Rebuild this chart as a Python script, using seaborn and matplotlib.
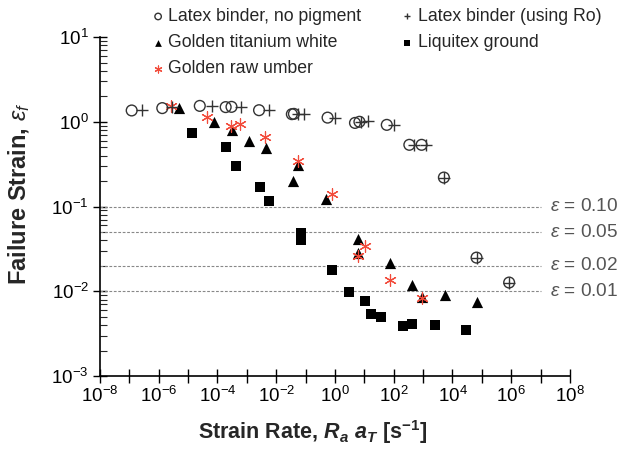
import numpy as np
import pandas as pd
import matplotlib
matplotlib.use("Agg")
import matplotlib.pyplot as plt
import matplotlib.ticker as mticker
import seaborn as sns

# strain rate R_a a_T [1/s] vs failure strain
latex_x = [1.2e-7, 1.32e-6, 2.5e-5, 1.9e-4, 3.0e-4, 2.6e-3, 3.4e-2, 4.0e-2, 0.56,
           4.8, 6.8, 58, 340, 890, 5100, 6.6e4, 8.5e5]
latex_y = [1.36, 1.45, 1.54, 1.49, 1.50, 1.37, 1.23, 1.24, 1.12,
           0.97, 1.0, 0.92, 0.535, 0.535, 0.22, 0.025, 0.0127]

ro_x = [2.6e-7, 2.8e-6, 6.3e-5, 6.5e-4, 5.8e-3, 5.5e-2, 8.7e-2, 1.0,
        7.8, 13.5, 105, 490, 1260, 5100, 6.6e4, 8.5e5]
ro_y = [1.36, 1.50, 1.54, 1.50, 1.39, 1.24, 1.24, 1.12,
        1.0, 1.03, 0.92, 0.535, 0.535, 0.22, 0.025, 0.0127]

white_x = [4.8e-6, 7.8e-5, 3.1e-4, 1.17e-3, 4.5e-3, 5.4e-2, 3.8e-2, 0.50,
           6.2, 6.3, 74, 430, 930, 5500, 6.6e4]
white_y = [1.46, 1.0, 0.80, 0.60, 0.49, 0.31, 0.20, 0.123,
           0.041, 0.0287, 0.0215, 0.0120, 0.00855, 0.0091, 0.0074]

ground_x = [1.38e-5, 1.95e-4, 4.4e-4, 2.9e-3, 5.9e-3, 7.1e-2, 7.1e-2, 0.81,
            3.1, 10.7, 17.4, 38, 214, 430, 2600, 3.0e4]
ground_y = [0.736, 0.50, 0.30, 0.17, 0.115, 0.0494, 0.0405, 0.0178,
            0.0098, 0.00766, 0.00538, 0.00497, 0.00388, 0.0041, 0.0040, 0.00351]

umber_x = [2.6e-6, 4.4e-5, 3.0e-4, 6.0e-4, 4.2e-3, 5.6e-2, 0.78, 10.5, 6.2, 74, 930]
umber_y = [1.55, 1.15, 0.90, 0.95, 0.67, 0.344, 0.139, 0.0347, 0.0258, 0.0137, 0.00845]

strain_levels = [0.10, 0.05, 0.02, 0.01]
strain_labels = ["0.10", "0.05", "0.02", "0.01"]

sns.set_style("ticks")
plt.rcParams["font.family"] = ["Liberation Sans", "DejaVu Sans"]
plt.rcParams["mathtext.fontset"] = "custom"
plt.rcParams["mathtext.rm"] = "Liberation Sans"
plt.rcParams["mathtext.it"] = "Liberation Sans:italic"
plt.rcParams["mathtext.bf"] = "Liberation Sans:bold"
plt.rcParams["mathtext.bfit"] = "Liberation Sans:italic:bold"

fig = plt.figure(figsize=(6.34, 4.57), dpi=100)
ax = fig.add_axes([0.1577, 0.177, 0.7413, 0.742])

# reference strain lines
for lev, lab in zip(strain_levels, strain_labels):
    ax.plot([1e-8, 1e7], [lev, lev], ls=(0, (2.5, 1.5)), lw=0.8, color="#888888", zorder=1)
    ax.text(10**7.33, lev, r"$\varepsilon$ = " + lab, fontsize=13.7, color="#555555",
            va="center", ha="left", clip_on=False)

sns.scatterplot(x=ground_x, y=ground_y, marker="s", s=45, color="black", edgecolor="black",
                linewidth=0, label="Liquitex ground", ax=ax, zorder=3)
sns.scatterplot(x=white_x, y=white_y, marker="^", s=65, color="black", edgecolor="black",
                linewidth=0, label="Golden titanium white", ax=ax, zorder=3)
sns.scatterplot(x=umber_x, y=umber_y, marker=(6, 2, 0), s=70, color="#f24b3b",
                linewidth=0.85, label="Golden raw umber", ax=ax, zorder=4)
sns.scatterplot(x=latex_x, y=latex_y, marker="o", s=60, facecolors="none", edgecolor="#333333",
                linewidth=1.0, label="Latex binder, no pigment", ax=ax, zorder=4)
sns.scatterplot(x=ro_x, y=ro_y, marker="+", s=70, color="#333333",
                linewidth=1.0, label="Latex binder (using Ro)", ax=ax, zorder=4)

ax.set_xscale("log")
ax.set_yscale("log")
ax.set_xlim(1e-8, 1e8)
ax.set_ylim(1e-3, 1e1)

xt = [10.0**k for k in range(-8, 9)]
ax.set_xticks(xt)
ax.set_xticklabels([r"$10^{%d}$" % k if k % 2 == 0 else "" for k in range(-8, 9)])
ax.xaxis.set_minor_locator(mticker.NullLocator())
ax.set_yticks([10.0**k for k in range(-3, 2)])
ax.set_yticklabels([r"$10^{%d}$" % k for k in range(-3, 2)])
ax.yaxis.set_minor_locator(mticker.LogLocator(base=10, subs=np.arange(2, 10), numticks=20))
ax.yaxis.set_minor_formatter(mticker.NullFormatter())

ax.tick_params(axis="both", which="major", direction="inout", length=10, width=1,
               labelsize=13.5, color="black", labelcolor="black")
ax.tick_params(axis="x", pad=2)
ax.tick_params(axis="y", pad=3)
ax.tick_params(axis="y", which="minor", direction="in", length=5, width=0.8)
sns.despine(ax=ax)
for sp in ["left", "bottom"]:
    ax.spines[sp].set_linewidth(1.2)
    ax.spines[sp].set_color("black")

ax.set_xlabel(r"Strain Rate, $\mathbfit{R_a}$ $\mathbfit{a_T}$ [s$^{\mathbf{-1}}$]",
              fontsize=15.5, fontweight="bold")
ax.set_ylabel(r"Failure Strain, $\varepsilon_{\mathit{f}}$", fontsize=17, fontweight="bold")
ax.xaxis.set_label_coords(0.452, -0.124)
ax.yaxis.set_label_coords(-0.145, 0.537)

h, l = ax.get_legend_handles_labels()
order = [3, 1, 2, 4, 0]
ax.legend([h[i] for i in order], [l[i] for i in order], ncol=2, frameon=False,
          loc="upper left", bbox_to_anchor=(0.216, 1.017), bbox_transform=fig.transFigure,
          fontsize=12.7, markerscale=0.6, handlelength=0.6, handletextpad=0.28,
          columnspacing=2.3, labelspacing=0.52, borderpad=0.4)

fig.savefig("out.png", dpi=100)
